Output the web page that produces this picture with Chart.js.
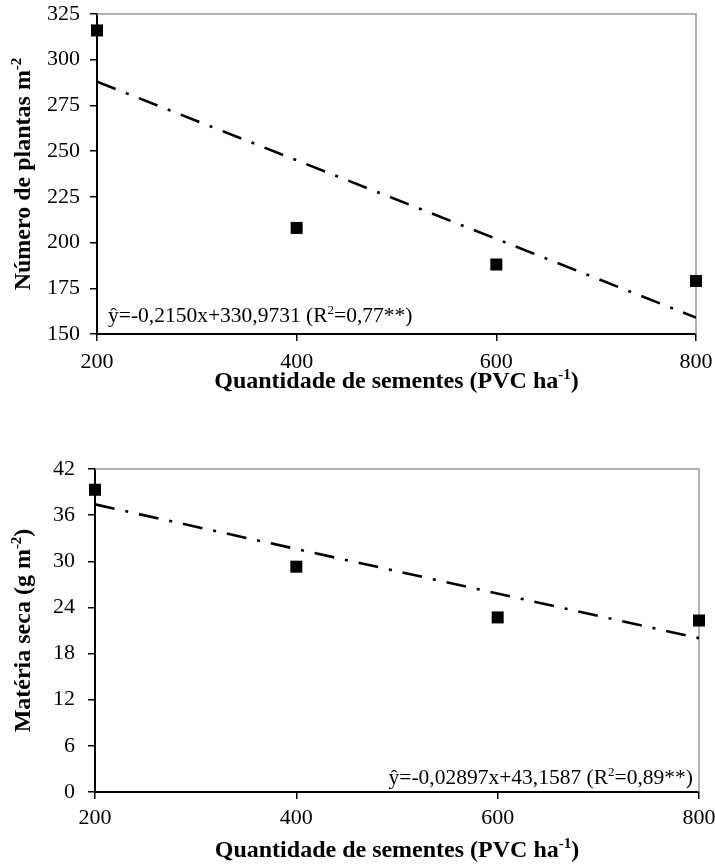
<!DOCTYPE html>
<html>
<head>
<meta charset="utf-8">
<script src="https://cdn.jsdelivr.net/npm/chart.js@4/dist/chart.umd.min.js"></script>
<style>
  html, body { margin: 0; padding: 0; background: #fff; }
  #wrap { position: relative; width: 715px; height: 867px; background: #fff; }
  .box { position: absolute; left: 0; width: 715px; }
  canvas { display: block; }
</style>
</head>
<body>
<div id="wrap">
  <div class="box" style="top:0;height:400px;"><canvas id="c1" width="715" height="400"></canvas></div>
  <div class="box" style="top:420px;height:447px;"><canvas id="c2" width="715" height="447"></canvas></div>
</div>
<script>
// ---- data ----
const seedRates = [200, 400, 600, 800];
const plantsValues = [316, 208, 188, 179];
const plantsTrendX = [200, 800];
const plantsTrendY = [288, 159];
const massValues = [39.3, 29.3, 22.7, 22.3];
const massTrendX = [200, 800];
const massTrendY = [37.4, 20.0];
const plantsTicks = [150, 175, 200, 225, 250, 275, 300, 325];
const massTicks = [0, 6, 12, 18, 24, 30, 36, 42];
// titles as [normal, superscript, normal] pieces
const xTitle = ['Quantidade de sementes (PVC ha', '-1', ')'];
const plantsTitle = ['Número de plantas m', '-2', ''];
const massTitle = ['Matéria seca (g m', '-2', ')'];
const plantsEq = ['ŷ=-0,2150x+330,9731 (R', '2', '=0,77**)'];
const massEq = ['ŷ=-0,02897x+43,1587 (R', '2', '=0,89**)'];

const SERIF = '"Liberation Serif", "Times New Roman", serif';

// draws [normal, sup, normal] text; anchor: 'left' | 'center' | 'right'
function richText(ctx, parts, x, y, size, bold, anchor) {
  const w = bold ? 'bold ' : '';
  const fMain = w + size + 'px ' + SERIF;
  const fSup = w + Math.round(size * 0.62) + 'px ' + SERIF;
  ctx.font = fMain; const w0 = ctx.measureText(parts[0]).width;
  ctx.font = fSup; const w1 = ctx.measureText(parts[1]).width;
  ctx.font = fMain; const w2 = ctx.measureText(parts[2]).width;
  const total = w0 + w1 + w2;
  let sx = x;
  if (anchor === 'center') sx = x - total / 2;
  else if (anchor === 'right') sx = x - total;
  ctx.textAlign = 'left';
  ctx.textBaseline = 'alphabetic';
  ctx.font = fMain; ctx.fillText(parts[0], sx, y);
  ctx.font = fSup; ctx.fillText(parts[1], sx + w0, y - size * 0.36);
  ctx.font = fMain; ctx.fillText(parts[2], sx + w0 + w1, y);
}

const framePlugin = {
  id: 'frame',
  beforeDatasetsDraw(chart) {
    const {ctx, chartArea: a} = chart;
    ctx.save();
    ctx.strokeStyle = '#999';
    ctx.lineWidth = 1.5;
    ctx.beginPath();
    ctx.moveTo(a.left, a.top);
    ctx.lineTo(a.right, a.top);
    ctx.lineTo(a.right, a.bottom);
    ctx.stroke();
    ctx.restore();
  }
};

const textPlugin = {
  id: 'texts',
  afterDatasetsDraw(chart, args, opts) {
    const {ctx, chartArea: a} = chart;
    ctx.save();
    ctx.fillStyle = '#000';
    // equation
    if (opts.eqAlign === 'left') {
      richText(ctx, opts.eq, a.left + opts.eqDx, a.bottom - opts.eqDy, 21.5, false, 'left');
    } else {
      richText(ctx, opts.eq, a.right - opts.eqDx, a.bottom - opts.eqDy, 21.5, false, 'right');
    }
    // x title
    richText(ctx, xTitle, (a.left + a.right) / 2, a.bottom + opts.xTitleDy, 24, true, 'center');
    // y title (rotated)
    ctx.save();
    ctx.translate(opts.yTitleX, (a.top + a.bottom) / 2);
    ctx.rotate(-Math.PI / 2);
    richText(ctx, opts.yTitle, 0, 0, 24, true, 'center');
    ctx.restore();
    ctx.restore();
  }
};

function makeChart(id, cfg) {
  const pts = seedRates.map((x, i) => ({x: x, y: cfg.values[i]}));
  const trend = cfg.trendX.map((x, i) => ({x: x, y: cfg.trendY[i]}));
  return new Chart(document.getElementById(id), {
    type: 'scatter',
    data: {
      datasets: [
        {
          type: 'line',
          data: trend,
          borderColor: '#000',
          borderWidth: 2.6,
          borderDash: [20, 11, 3, 11],
          borderCapStyle: 'butt',
          pointRadius: 0,
          fill: false,
          tension: 0
        },
        {
          data: pts,
          pointStyle: 'rect',
          pointRadius: 8.5,
          pointHoverRadius: 8.5,
          backgroundColor: '#000',
          borderColor: '#000',
          borderWidth: 0,
          clip: false
        }
      ]
    },
    options: {
      responsive: false,
      animation: false,
      devicePixelRatio: 1,
      layout: { padding: cfg.padding },
      plugins: {
        legend: { display: false },
        tooltip: { enabled: false },
        frame: {},
        texts: cfg.texts
      },
      scales: {
        x: {
          type: 'linear',
          min: 200, max: 800,
          afterBuildTicks(s) { s.ticks = seedRates.map(v => ({value: v})); },
          ticks: { color: '#000', font: { family: SERIF, size: 22 }, padding: cfg.xTickPad, maxRotation: 0 },
          grid: { drawOnChartArea: false, drawTicks: true, tickLength: 7, color: '#000', lineWidth: 1.5 },
          border: { color: '#000', width: 2 },
          title: { display: false },
          afterFit(s) { s.height = cfg.xHeight; s.paddingLeft = 0; s.paddingRight = 0; }
        },
        y: {
          type: 'linear',
          min: cfg.yTicks[0], max: cfg.yTicks[cfg.yTicks.length - 1],
          afterBuildTicks(s) { s.ticks = cfg.yTicks.map(v => ({value: v})); },
          ticks: { color: '#000', font: { family: SERIF, size: 22 }, padding: cfg.yTickPad },
          grid: { drawOnChartArea: false, drawTicks: true, tickLength: 7, color: '#000', lineWidth: 1.5 },
          border: { color: '#000', width: 2 },
          title: { display: false },
          afterFit(s) { s.width = cfg.yWidth; s.paddingTop = 0; s.paddingBottom = 0; }
        }
      }
    },
    plugins: [framePlugin, textPlugin]
  });
}

makeChart('c1', {
  values: plantsValues, trendX: plantsTrendX, trendY: plantsTrendY,
  yTicks: plantsTicks,
  padding: { top: 14, right: 19, left: 0, bottom: 0 },
  xHeight: 66, xTickPad: 8, yTickPad: 10, yWidth: 97,
  texts: { eq: plantsEq, eqAlign: 'left', eqDx: 11, eqDy: 12, xTitleDy: 54, yTitle: plantsTitle, yTitleX: 30 }
});

makeChart('c2', {
  values: massValues, trendX: massTrendX, trendY: massTrendY,
  yTicks: massTicks,
  padding: { top: 49, right: 16, left: 0, bottom: 0 },
  xHeight: 75, xTickPad: 6, yTickPad: 13, yWidth: 95,
  texts: { eq: massEq, eqAlign: 'right', eqDx: 6, eqDy: 8, xTitleDy: 65, yTitle: massTitle, yTitleX: 30 }
});
</script>
</body>
</html>
